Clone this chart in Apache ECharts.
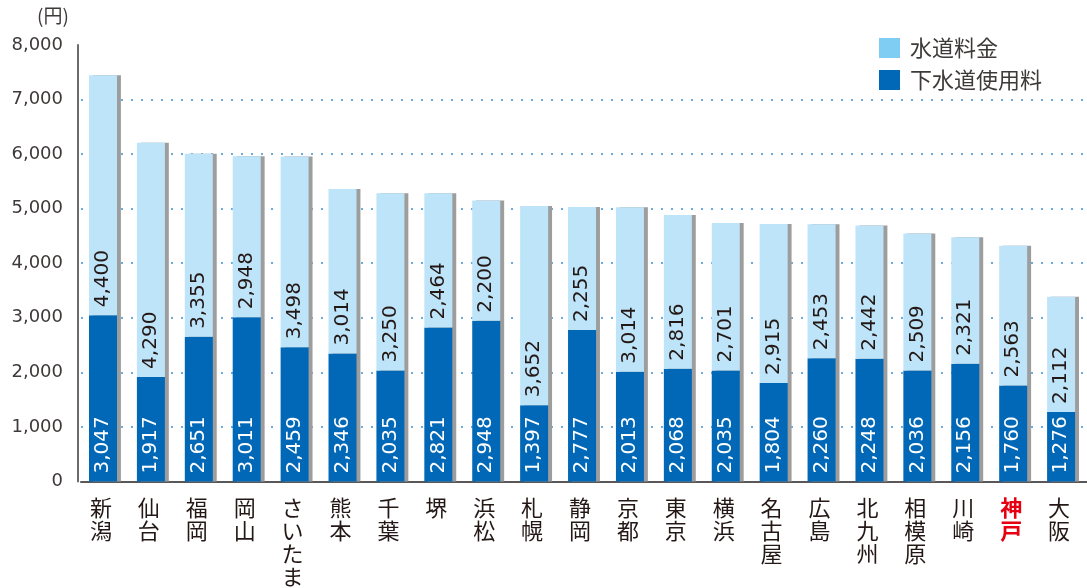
<!DOCTYPE html>
<html>
<head>
<meta charset="utf-8">
<script src="https://cdn.jsdelivr.net/npm/echarts@6/dist/echarts.min.js"></script>
<style>
  html, body { margin: 0; padding: 0; background: #fff; }
  #chart { width: 1087px; height: 588px; }
</style>
</head>
<body>
<div id="chart"></div>
<script>
  const cities = ['新潟', '仙台', '福岡', '岡山', 'さいたま', '熊本', '千葉', '堺', '浜松', '札幌', '静岡',
    '京都', '東京', '横浜', '名古屋', '広島', '北九州', '相模原', '川崎', '神戸', '大阪'];
  const sewer = [3047, 1917, 2651, 3011, 2459, 2346, 2035, 2821, 2948, 1397, 2777,
    2013, 2068, 2035, 1804, 2260, 2248, 2036, 2156, 1760, 1276];
  const water = [4400, 4290, 3355, 2948, 3498, 3014, 3250, 2464, 2200, 3652, 2255,
    3014, 2816, 2701, 2915, 2453, 2442, 2509, 2321, 2563, 2112];
  const yTicks = [0, 1000, 2000, 3000, 4000, 5000, 6000, 7000, 8000];

  const totals = sewer.map((v, i) => v + water[i]);
  const fmt = v => Number(v).toLocaleString('en-US');
  const cjk = '"Noto Sans CJK JP", sans-serif';

  const chart = echarts.init(document.getElementById('chart'));

  const barLabel = color => ({
    show: true,
    position: 'insideBottom',
    rotate: 90,
    align: 'left',
    verticalAlign: 'middle',
    distance: 8,
    color: color,
    fontFamily: 'DejaVu Sans',
    fontSize: 20,
    formatter: p => fmt(p.value)
  });

  chart.setOption({
    animation: false,
    graphic: [{
      type: 'text', left: 37, top: 6,
      style: { text: '(円)', fontFamily: cjk, fontSize: 19, fill: '#3e3a39' }
    }],
    legend: {
      orient: 'vertical',
      left: 879,
      top: 37,
      padding: 0,
      icon: 'rect',
      itemWidth: 21,
      itemHeight: 20,
      itemGap: 10,
      selectedMode: false,
      textStyle: { fontFamily: cjk, fontSize: 22, color: '#3e3a39', padding: [0, 0, 0, 5] },
      data: [
        { name: '水道料金', itemStyle: { color: '#7fcdf3' } },
        { name: '下水道使用料', itemStyle: { color: '#0068b7' } }
      ]
    },
    grid: { left: 81, top: 45, width: 1012, height: 438 },
    xAxis: {
      type: 'category',
      data: cities,
      axisLine: { lineStyle: { color: '#595757', width: 2 } },
      axisTick: { show: false },
      axisLabel: {
        interval: 0,
        margin: 15,
        padding: [0, 8, 0, 0],
        formatter: v => {
          const key = v === '神戸' ? 'r' : 'n';
          return v.split('').map(c => '{' + key + '|' + c + '}').join('\n');
        },
        rich: {
          n: { fontFamily: cjk, fontSize: 22, lineHeight: 23, color: '#231815' },
          r: { fontFamily: cjk, fontSize: 22, lineHeight: 23, color: '#e60012', fontWeight: 'bold' }
        }
      }
    },
    yAxis: {
      type: 'value',
      min: 0,
      max: 8000,
      interval: 1000,
      offset: 3,
      axisLine: { show: true, lineStyle: { color: '#6b6b6b', width: 2 } },
      axisTick: { show: false },
      axisLabel: {
        margin: 15,
        fontFamily: 'DejaVu Sans',
        fontSize: 18,
        color: '#3e3a39',
        formatter: v => yTicks.includes(v) ? fmt(v) : ''
      },
      splitLine: {
        showMaxLine: false,
        lineStyle: { color: '#3d8fd0', width: 1.5, type: [2, 8] }
      }
    },
    series: [
      {
        name: '下水道使用料',
        type: 'bar',
        stack: 'fee',
        barWidth: 28,
        barGap: '-86%',
        z: 3,
        itemStyle: { color: '#0068b7' },
        label: barLabel('#ffffff'),
        data: sewer
      },
      {
        name: '水道料金',
        type: 'bar',
        stack: 'fee',
        barWidth: 28,
        barGap: '-86%',
        z: 3,
        itemStyle: { color: '#bee4f9' },
        label: barLabel('#231815'),
        data: water
      },
      {
        name: 'shadow',
        type: 'bar',
        stack: 'shadow',
        barWidth: 28,
        barGap: '-86%',
        z: 1,
        silent: true,
        itemStyle: { color: '#9d9d9d' },
        data: totals
      }
    ]
  });
</script>
</body>
</html>
